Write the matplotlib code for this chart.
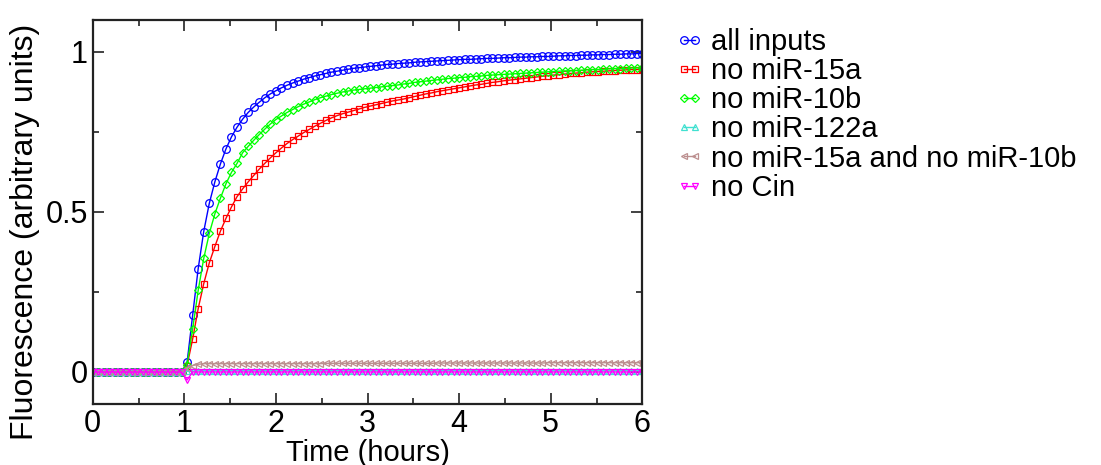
import numpy as np
import matplotlib
matplotlib.use("Agg")
import matplotlib.pyplot as plt

plt.rcParams['font.family'] = ['Liberation Sans', 'DejaVu Sans']

# sampling grid: 100 points over 6 hours
time_h = np.linspace(0, 6, 100)

flat = [0.0] * 17

all_inputs = flat + [
    0.030, 0.177, 0.323, 0.439, 0.527, 0.594, 0.650, 0.697, 0.735, 0.765,
    0.790, 0.811, 0.828, 0.843, 0.857, 0.869, 0.879, 0.888, 0.896, 0.903,
    0.909, 0.915, 0.920, 0.925, 0.929, 0.933, 0.937, 0.940, 0.943, 0.946,
    0.949, 0.951, 0.953, 0.955, 0.957, 0.959, 0.961, 0.962, 0.964, 0.965,
    0.966, 0.968, 0.969, 0.970, 0.971, 0.972, 0.973, 0.974, 0.975, 0.976,
    0.977, 0.977, 0.978, 0.979, 0.980, 0.980, 0.981, 0.982, 0.982, 0.983,
    0.984, 0.984, 0.985, 0.985, 0.986, 0.986, 0.987, 0.988, 0.988, 0.989,
    0.989, 0.990, 0.990, 0.991, 0.991, 0.992, 0.992, 0.993, 0.993, 0.994,
    0.994, 0.995, 0.995]

no_mir15a = flat + [
    0.020, 0.103, 0.198, 0.276, 0.341, 0.392, 0.440, 0.480, 0.516, 0.548,
    0.572, 0.594, 0.614, 0.634, 0.652, 0.669, 0.685, 0.700, 0.714, 0.726,
    0.737, 0.748, 0.758, 0.768, 0.777, 0.786, 0.794, 0.801, 0.807, 0.812,
    0.817, 0.822, 0.827, 0.831, 0.835, 0.839, 0.843, 0.847, 0.850, 0.853,
    0.857, 0.861, 0.865, 0.869, 0.872, 0.876, 0.879, 0.882, 0.885, 0.888,
    0.891, 0.894, 0.897, 0.899, 0.902, 0.905, 0.907, 0.910, 0.912, 0.914,
    0.916, 0.918, 0.920, 0.922, 0.924, 0.926, 0.928, 0.929, 0.931, 0.933,
    0.934, 0.935, 0.937, 0.938, 0.939, 0.940, 0.941, 0.942, 0.943, 0.944,
    0.945, 0.945, 0.946]

no_mir10b = flat + [
    0.023, 0.134, 0.255, 0.355, 0.433, 0.494, 0.543, 0.588, 0.624, 0.652,
    0.685, 0.705, 0.724, 0.742, 0.759, 0.775, 0.789, 0.800, 0.811, 0.820,
    0.829, 0.837, 0.844, 0.851, 0.857, 0.862, 0.867, 0.871, 0.875, 0.878,
    0.881, 0.883, 0.885, 0.887, 0.889, 0.891, 0.893, 0.895, 0.897, 0.900,
    0.902, 0.905, 0.907, 0.909, 0.911, 0.913, 0.915, 0.917, 0.918, 0.920,
    0.921, 0.923, 0.924, 0.925, 0.927, 0.928, 0.929, 0.930, 0.931, 0.932,
    0.933, 0.934, 0.935, 0.936, 0.937, 0.938, 0.939, 0.940, 0.941, 0.941,
    0.942, 0.943, 0.944, 0.945, 0.945, 0.946, 0.947, 0.948, 0.948, 0.949,
    0.950, 0.950, 0.951]

no_mir122a = flat + [0.002] * 2 + [0.004] * 81

no_both = flat + [0.012, 0.020, 0.024] + [0.026] * 22 + [0.027] * 20 \
    + [0.028] * 20 + [0.029] * 18

no_cin = flat + [-0.025] + [0.0] * 82

series = [
    ("all inputs", all_inputs, "#0000ff", "o", 5.5),
    ("no miR-15a", no_mir15a, "#ff0000", "s", 5.0),
    ("no miR-10b", no_mir10b, "#00ff00", "D", 4.0),
    ("no miR-122a", no_mir122a, "#40e0d0", "^", 5.0),
    ("no miR-15a and no miR-10b", no_both, "#bc8f8f", "<", 5.0),
    ("no Cin", no_cin, "#ff00ff", "v", 5.0),
]

fig = plt.figure(figsize=(11.01, 4.65), dpi=100)
ax = fig.add_axes([0.0842, 0.1312, 0.4992, 0.8258])

for name, vals, col, mk, ms in series:
    ax.plot(time_h, vals, color=col, lw=1.0, marker=mk, ms=ms,
            mfc='none', mec=col, mew=0.9, label=name)

ax.set_xlim(0, 6)
ax.set_ylim(-0.1, 1.1)
ax.set_xticks([0, 1, 2, 3, 4, 5, 6])
ax.set_xticks(np.arange(0.5, 6, 1), minor=True)
ax.set_yticks([0, 0.5, 1])
ax.set_yticklabels(["0", "0.5", "1"])
ax.set_yticks([0.25, 0.75], minor=True)
ax.tick_params(which='both', direction='in', top=True, right=True,
               labelsize=22, width=1.2, color='#222222')
ax.tick_params(which='major', length=8)
ax.tick_params(which='minor', length=4)
for sp in ax.spines.values():
    sp.set_linewidth(1.6)
    sp.set_color('#222222')

ax.set_xlabel("Time (hours)", fontsize=21, labelpad=0)
ax.set_ylabel("Fluorescence (arbitrary units)", fontsize=23, labelpad=4)
ax.yaxis.label.set_y(0.448)

fig.legend(loc='upper left', bbox_to_anchor=(0.613, 0.94), frameon=False,
           fontsize=21, numpoints=2, handlelength=1.0, handletextpad=0.25,
           labelspacing=0.04, borderpad=0, borderaxespad=0)

fig.savefig("out.png", dpi=100)
